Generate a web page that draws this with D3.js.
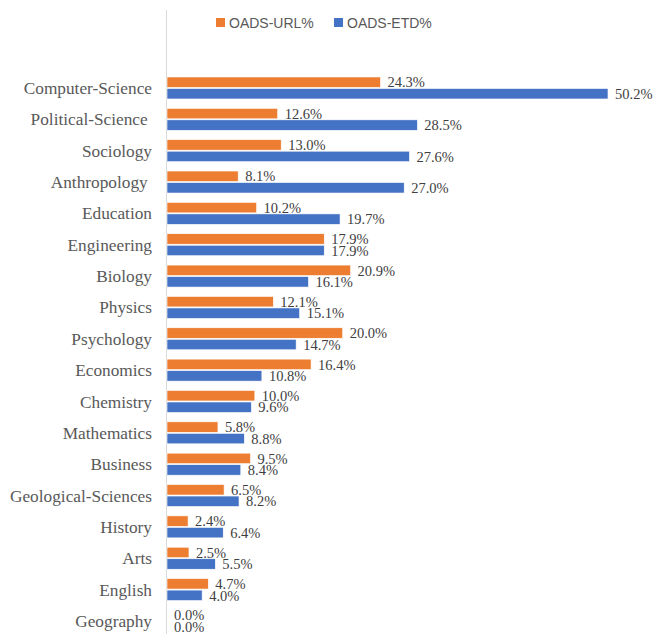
<!DOCTYPE html>
<html>
<head>
<meta charset="utf-8">
<script src="https://cdn.jsdelivr.net/npm/d3@7"></script>
<style>
  body { margin: 0; background: #fff; }
  svg { display: block; }
</style>
</head>
<body>
<div id="chart"></div>
<script>
// subjects, top to bottom
var categories = ["Computer-Science", "Political-Science ", "Sociology", "Anthropology ", "Education",
  "Engineering", "Biology", "Physics", "Psychology", "Economics", "Chemistry", "Mathematics",
  "Business", "Geological-Sciences", "History", "Arts", "English", "Geography"];
var urlValues = [24.3, 12.6, 13.0, 8.1, 10.2, 17.9, 20.9, 12.1, 20.0, 16.4, 10.0, 5.8, 9.5, 6.5, 2.4, 2.5, 4.7, 0.0];
var etdValues = [50.2, 28.5, 27.6, 27.0, 19.7, 17.9, 16.1, 15.1, 14.7, 10.8, 9.6, 8.8, 8.4, 8.2, 6.4, 5.5, 4.0, 0.0];
var seriesNames = ["OADS-URL%", "OADS-ETD%"];
var seriesColors = ["#ED7D31", "#4472C4"];

const width = 654, height = 634;
const axisX = 167;

var svg = d3.select("#chart").append("svg")
  .attr("width", width)
  .attr("height", height);

var x = d3.scaleLinear()
  .domain([0, 50.2])
  .range([axisX, 608]);

var y0 = d3.scaleBand()
  .domain(categories)
  .range([72.3, 72.3 + 31.35 * categories.length])
  .padding(0);

var y1 = d3.scaleBand()
  .domain(seriesNames)
  .range([y0.bandwidth() / 2 - 11, y0.bandwidth() / 2 + 11])
  .paddingInner(0.09);

var rows = categories.map(function(c, i) {
  return {cat: c, vals: [urlValues[i], etdValues[i]]};
});

// vertical axis line
svg.append("line")
  .attr("x1", axisX - 0.5).attr("x2", axisX - 0.5)
  .attr("y1", 10).attr("y2", height)
  .attr("stroke", "#d9d9d9")
  .attr("stroke-width", 1);

var g = svg.selectAll(".row")
  .data(rows)
  .enter()
  .append("g")
  .attr("class", "row")
  .attr("transform", function(d) { return "translate(0," + y0(d.cat) + ")"; });

// category labels
g.append("text")
  .attr("x", 152)
  .attr("y", y0.bandwidth() / 2)
  .attr("dy", "0.35em")
  .attr("text-anchor", "end")
  .style("white-space", "pre")
  .style("font-family", "'Liberation Serif', 'Times New Roman', serif")
  .style("font-size", "17.3px")
  .style("fill", "#595959")
  .text(function(d) { return d.cat; });

var bars = g.selectAll(".bar")
  .data(function(d) { return d.vals.map(function(v, j) { return {v: v, s: seriesNames[j], j: j}; }); })
  .enter();

bars.append("rect")
  .attr("class", "bar")
  .attr("x", axisX)
  .attr("y", function(d) { return y1(d.s); })
  .attr("width", function(d) { return x(d.v) - axisX; })
  .attr("height", y1.bandwidth())
  .attr("fill", function(d) { return seriesColors[d.j]; })
  .attr("stroke", "#fff")
  .attr("stroke-width", 0.6);

bars.append("text")
  .attr("x", function(d) { return x(d.v) + 7; })
  .attr("y", function(d) { return y1(d.s) + y1.bandwidth() / 2; })
  .attr("dy", "0.36em")
  .style("font-family", "'Liberation Serif', 'Times New Roman', serif")
  .style("font-size", "14.5px")
  .style("fill", "#404040")
  .text(function(d) { return d.v.toFixed(1) + "%"; });

// legend
var legendX = [216, 334];
var legend = svg.selectAll(".legend")
  .data(seriesNames)
  .enter()
  .append("g")
  .attr("class", "legend")
  .attr("transform", function(d, i) { return "translate(" + legendX[i] + ",18)"; });

legend.append("rect")
  .attr("width", 9).attr("height", 9)
  .attr("fill", function(d, i) { return seriesColors[i]; });

legend.append("text")
  .attr("x", 13)
  .attr("y", 4.5)
  .attr("dy", "0.36em")
  .style("font-family", "'Liberation Sans', Arial, sans-serif")
  .style("font-size", "14px")
  .style("fill", "#595959")
  .text(function(d) { return d; });
</script>
</body>
</html>
